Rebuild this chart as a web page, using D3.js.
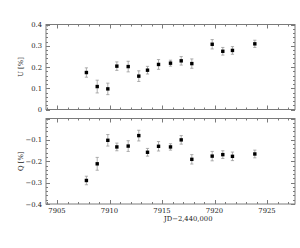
<!DOCTYPE html>
<html><head><meta charset="utf-8">
<script src="https://cdn.jsdelivr.net/npm/d3@7"></script>
<style>body{margin:0;background:#fff}svg{display:block}</style>
</head><body>
<script>
const jd   = [7907.8,7908.83,7909.84,7910.7,7911.78,7912.79,7913.62,7914.67,7915.81,7916.83,7917.84,7919.78,7920.79,7921.71,7923.84];
const uVal = [0.174,0.108,0.097,0.204,0.202,0.157,0.185,0.212,0.218,0.229,0.216,0.307,0.274,0.278,0.309];
const uErr = [0.022,0.030,0.027,0.020,0.025,0.025,0.018,0.023,0.014,0.020,0.022,0.022,0.018,0.018,0.017];
const qVal = [-0.290,-0.212,-0.102,-0.133,-0.129,-0.080,-0.158,-0.130,-0.133,-0.100,-0.191,-0.176,-0.169,-0.177,-0.166];
const qErr = [0.020,0.030,0.027,0.018,0.025,0.025,0.018,0.022,0.015,0.020,0.022,0.022,0.018,0.020,0.018];
const xTicks = [7905,7910,7915,7920,7925];
const uTicks = [0,0.1,0.2,0.3,0.4];
const qTicks = [-0.1,-0.2,-0.3,-0.4];
const xLabel = "JD\u22122,440,000";

const W=300,H=248;
const svg=d3.select("body").append("svg").attr("width",W).attr("height",H);
const L=46,R=295;
const x=d3.scaleLinear().domain([7905,7925]).range([57,267]);
const xDom=[x.invert(L),x.invert(R)];
const font="'DejaVu Serif', 'Liberation Serif', serif";
const axisCol="#7a7a7a";

function panel(y0,y1,dom,vals,errs,ticks,label,showX){
  const y=d3.scaleLinear().domain(dom).range([y1,y0]);
  const g=svg.append("g");
  g.append("rect").attr("x",L).attr("y",y0).attr("width",R-L).attr("height",y1-y0)
   .attr("fill","none").attr("stroke",axisCol).attr("stroke-width",1);
  const xs=d3.range(Math.ceil(xDom[0]),Math.floor(xDom[1])+1);
  xs.forEach(d=>{
    const len=(d%5===0)?4:2;
    const px=Math.round(x(d))+0.5;
    g.append("line").attr("x1",px).attr("x2",px).attr("y1",y1).attr("y2",y1-len).attr("stroke",axisCol);
    g.append("line").attr("x1",px).attr("x2",px).attr("y1",y0).attr("y2",y0+len).attr("stroke",axisCol);
  });
  const ys=d3.range(0,21).map(i=>dom[0]+i*(dom[1]-dom[0])/20);
  ys.forEach((d,i)=>{
    const len=(i%5===0)?4:2;
    const py=Math.round(y(d))+0.5;
    g.append("line").attr("x1",L).attr("x2",L+len).attr("y1",py).attr("y2",py).attr("stroke",axisCol);
    g.append("line").attr("x1",R).attr("x2",R-len).attr("y1",py).attr("y2",py).attr("stroke",axisCol);
  });
  ticks.forEach(t=>{
    g.append("text").attr("x",L-4).attr("y",y(t)+2.5).attr("text-anchor","end")
     .attr("font-family",font).attr("font-size",6.8).attr("fill","#222")
     .text(t<0?"\u2212"+String(Math.abs(t)):String(t));
  });
  g.append("text").attr("transform",`translate(23,${(y0+y1)/2}) rotate(-90)`)
   .attr("text-anchor","middle").attr("font-family",font).attr("font-size",6.8).attr("fill","#222").text(label);
  if(showX){
    xTicks.forEach(t=>{
      g.append("text").attr("x",x(t)).attr("y",y1+9).attr("text-anchor","middle")
       .attr("font-family",font).attr("font-size",6.8).attr("fill","#222").text(t);
    });
    g.append("text").attr("x",x(7917.5)).attr("y",y1+17).attr("text-anchor","middle")
     .attr("font-family",font).attr("font-size",6.8).attr("fill","#222").text(xLabel);
  }
  jd.forEach((d,i)=>{
    const px=x(d), yl=y(vals[i]-errs[i]), yh=y(vals[i]+errs[i]);
    g.append("line").attr("x1",px).attr("x2",px).attr("y1",yl).attr("y2",yh).attr("stroke","#999").attr("stroke-width",0.8);
    [yl,yh].forEach(yy=>g.append("line").attr("x1",px-1.6).attr("x2",px+1.6).attr("y1",yy).attr("y2",yy).attr("stroke","#999").attr("stroke-width",0.8));
    g.append("rect").attr("x",px-1.7).attr("y",y(vals[i])-1.7).attr("width",3.4).attr("height",3.4).attr("fill","#000");
  });
}
panel(24.5,109.5,[0,0.4],uVal,uErr,uTicks,"U [%]",false);
panel(118.5,204,[-0.4,0],qVal,qErr,qTicks,"Q [%]",true);
</script>
</body></html>
